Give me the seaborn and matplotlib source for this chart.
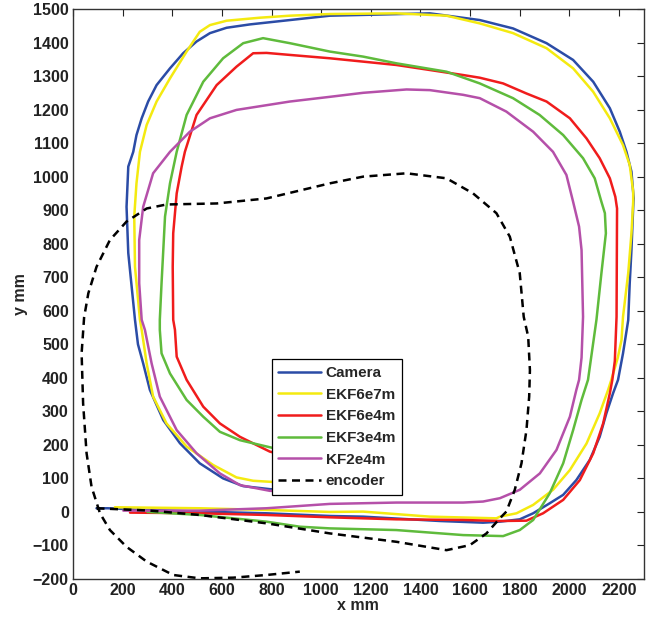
import numpy as np
import pandas as pd
import matplotlib
matplotlib.use("Agg")
import matplotlib.pyplot as plt
import seaborn as sns

# ---------------- data ----------------
camera_x = [95, 140, 300, 511, 780, 1035, 1169, 1478, 1652, 1720, 1800, 1854, 1921, 1975, 2028,
            2082, 2122, 2149, 2176, 2196, 2216, 2237, 2243, 2250, 2257, 2259, 2250, 2230, 2203,
            2163, 2096, 2015, 1908, 1773, 1639, 1438, 1035, 874, 713, 619, 552, 498, 444, 391,
            337, 303, 277, 256, 243, 223, 216, 223, 250, 262, 283, 310, 364, 431, 511, 605, 686,
            793, 900]
camera_y = [11, 11, 6, 1, -4, -12, -14, -27, -32, -29, -22, -4, 26, 51, 95,
            155, 224, 294, 354, 394, 473, 572, 682, 781, 910, 935, 1015, 1074, 1134,
            1204, 1283, 1348, 1398, 1442, 1467, 1487, 1480, 1467, 1454, 1444, 1428, 1403, 1368, 1323,
            1273, 1224, 1174, 1124, 1074, 1030, 910, 772, 573, 500, 443, 364, 274, 205, 145, 100, 77,
            68, 62]

ekf6e7m_x = [169, 511, 780, 1035, 1169, 1438, 1706, 1720, 1787, 1854, 1934, 2002, 2069, 2122,
             2156, 2169, 2195, 2210, 2216, 2237, 2250, 2257, 2257, 2243, 2216, 2163, 2096, 2015,
             1908, 1773, 1639, 1505, 1303, 1035, 874, 753, 619, 552, 511, 458, 391, 337, 297, 270,
             256, 247, 250, 270, 277, 297, 323, 377, 458, 565, 659, 726, 793, 900]
ekf6e7m_y = [14, 11, 6, 0, 1, -14, -19, -14, -4, 21, 66, 125, 204, 294,
             364, 394, 460, 513, 582, 712, 831, 925, 955, 1035, 1094, 1174, 1253, 1323,
             1383, 1428, 1457, 1480, 1487, 1485, 1480, 1474, 1465, 1452, 1432, 1373, 1293, 1224, 1154, 1074,
             980, 881, 731, 573, 543, 443, 344, 264, 195, 140, 103, 93, 90, 86]

ekf6e4m_x = [230, 511, 780, 1035, 1303, 1572, 1720, 1827, 1894, 1975, 2042, 2096, 2136, 2163,
             2173, 2183, 2190, 2192, 2185, 2163, 2122, 2069, 2002, 1908, 1827, 1733, 1639, 1572,
             1438, 1303, 1169, 1035, 874, 780, 726, 659, 579, 498, 451, 438, 418, 404, 402, 404,
             411, 418, 458, 525, 592, 673, 793, 900]
ekf6e4m_y = [-2, -4, -9, -16, -22, -24, -27, -26, -4, 36, 95, 175, 264, 354,
             394, 450, 582, 905, 940, 995, 1055, 1114, 1174, 1224, 1248, 1278, 1295, 1303,
             1318, 1333, 1343, 1353, 1363, 1369, 1368, 1328, 1273, 1184, 1074, 1030, 950, 831, 731, 573,
             543, 463, 394, 314, 264, 224, 180, 160]

ekf3e4m_x = [300, 511, 780, 914, 1035, 1303, 1572, 1733, 1800, 1854, 1921, 1975, 2015, 2049,
             2075, 2109, 2129, 2147, 2143, 2129, 2102, 2055, 1975, 1880, 1773, 1639, 1505, 1303,
             1169, 1035, 874, 766, 686, 605, 525, 458, 418, 391, 371, 364, 357, 350, 350, 357, 391,
             458, 525, 592, 673, 793, 900]
ekf3e4m_y = [0, -9, -29, -44, -49, -54, -69, -72, -54, -24, 56, 145, 244, 334,
             394, 573, 712, 831, 891, 925, 995, 1055, 1124, 1184, 1234, 1278, 1313, 1338,
             1358, 1373, 1398, 1413, 1398, 1353, 1283, 1184, 1074, 980, 881, 781, 682, 573, 543, 473, 413,
             334, 284, 239, 214, 193, 175]

kf2e4m_x = [203, 511, 780, 1035, 1303, 1572, 1652, 1720, 1800, 1881, 1948, 2002, 2028, 2039,
            2049, 2055, 2049, 2039, 2015, 1988, 1934, 1854, 1746, 1639, 1572, 1438, 1344, 1169,
            1035, 874, 659, 552, 471, 391, 323, 283, 267, 267, 277, 290, 317, 350, 418, 498, 592,
            673, 793, 900]
kf2e4m_y = [4, 4, 11, 24, 28, 28, 31, 41, 66, 115, 185, 284, 364, 394,
            460, 582, 781, 851, 925, 1005, 1074, 1134, 1194, 1234, 1244, 1258, 1260, 1250,
            1238, 1224, 1199, 1174, 1134, 1074, 1010, 910, 811, 682, 573, 543, 443, 344, 244, 175, 115,
            80, 63, 60]

encoder_x = [95, 310, 511, 780, 1035, 1303, 1505, 1599, 1666, 1720, 1746, 1780, 1807, 1827, 1838,
             1841, 1834, 1816, 1800, 1760, 1706, 1612, 1505, 1344, 1169, 1035, 780, 579, 377, 297,
             216, 149, 95, 62, 45, 35, 41, 55, 75, 109, 149, 216, 297, 404, 511, 646, 780, 914]
encoder_y = [11, 4, -9, -34, -64, -89, -114, -99, -64, -19, 1, 66, 145, 244, 344,
             423, 523, 582, 712, 821, 891, 950, 995, 1010, 1000, 980, 935, 920, 917, 905,
             866, 811, 731, 652, 580, 473, 324, 175, 75, -4, -54, -104, -148, -188, -198, -196, -188, -178]

series_names = ["Camera", "EKF6e7m", "EKF6e4m", "EKF3e4m", "KF2e4m", "encoder"]
series_data = [(camera_x, camera_y), (ekf6e7m_x, ekf6e7m_y), (ekf6e4m_x, ekf6e4m_y),
               (ekf3e4m_x, ekf3e4m_y), (kf2e4m_x, kf2e4m_y), (encoder_x, encoder_y)]
colors = ["#2b4ca6", "#f4ea10", "#f01c1c", "#5fbb3c", "#b550a9", "#000000"]

x_ticks = list(range(0, 2201, 200))
y_ticks = list(range(-200, 1501, 100))

# ---------------- plotting ----------------
sns.set_style("white")
plt.rcParams["font.family"] = ["Liberation Sans", "DejaVu Sans"]
plt.rcParams["font.weight"] = "bold"

fig = plt.figure(figsize=(6.57, 6.24), dpi=100)
ax = fig.add_axes([0.111, 0.0721, 0.869, 0.9135])

for name, (xs, ys), col in zip(series_names, series_data, colors):
    df = pd.DataFrame({"x": xs, "y": ys})
    if name == "encoder":
        sns.lineplot(data=df, x="x", y="y", sort=False, estimator=None, ax=ax,
                     color=col, lw=1.8, label=name, linestyle=(0, (3.2, 2.2)))
    else:
        sns.lineplot(data=df, x="x", y="y", sort=False, estimator=None, ax=ax,
                     color=col, lw=1.8, label=name)

ax.set_xlim(0, 2300)
ax.set_ylim(-200, 1500)
ax.set_xticks(x_ticks)
ax.set_yticks(y_ticks)
ax.tick_params(direction="in", length=5, width=0.8, top=True, right=True,
               labelsize=11.5, colors="#222222", pad=3)
for lab in ax.get_xticklabels() + ax.get_yticklabels():
    lab.set_fontweight("bold")
for sp in ax.spines.values():
    sp.set_visible(True)
    sp.set_color("#333333")
    sp.set_linewidth(1.0)

ax.set_xlabel("x mm", fontsize=11.5, fontweight="bold", labelpad=0)
ax.set_ylabel("y mm", fontsize=11.5, fontweight="bold", labelpad=3)

leg = ax.legend(loc="lower left", bbox_to_anchor=(0.348, 0.147), frameon=True,
                fancybox=False, framealpha=1, edgecolor="black",
                prop={"weight": "bold", "size": 11}, handlelength=2.8,
                labelspacing=0.5, borderpad=0.45, handletextpad=0.3,
                borderaxespad=0)
leg.get_frame().set_linewidth(0.9)

fig.savefig("out.png", dpi=100)
